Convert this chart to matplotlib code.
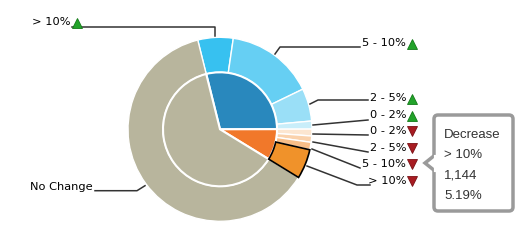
import numpy as np
import matplotlib
matplotlib.use("Agg")
import matplotlib.pyplot as plt
from matplotlib.patches import FancyBboxPatch, Polygon

# inner ring: direction of change
inner_labels = ["Increase", "Decrease", "No Change"]
inner_counts = [6360, 1938, 13744]
inner_colors = ["#2988BD", "#F1782A", "#B8B59D"]

# outer ring: size of change
outer_labels = ["> 10%", "5 - 10%", "2 - 5%", "0 - 2%",
                "0 - 2%", "2 - 5%", "5 - 10%", "> 10%", "No Change"]
outer_dir = ["up", "up", "up", "up", "down", "down", "down", "down", None]
outer_counts = [1367, 3417, 1267, 309, 265, 242, 287, 1144, 13744]
outer_colors = ["#37C1F0", "#66CFF3", "#9ADFF7", "#C9EEFA",
                "#FCE6D0", "#FAD2AC", "#F8BE88", "#F0922A", "#B8B59D"]

tooltip_lines = ["Decrease", "> 10%", "1,144", "5.19%"]

W, H = 532, 245
fig = plt.figure(figsize=(W / 100, H / 100), dpi=100)
ax = fig.add_axes([0, 0, 1, 1])
ax.set_xlim(0, W)
ax.set_ylim(0, H)
ax.axis("off")


def py(y):
    # pixel row (from top) -> data y
    return H - y


cx, cy = 220, py(129.3)
r_out, r_in = 92, 57

explode = [0] * len(outer_counts)
explode[7] = 13 / r_out
wedges, _ = ax.pie(outer_counts, radius=r_out, center=(cx, cy), startangle=104,
                   counterclock=False, colors=outer_colors, explode=explode,
                   wedgeprops=dict(width=r_out - r_in, edgecolor="white", linewidth=1))
wedges[7].set_edgecolor("black")
wedges[7].set_linewidth(1.2)
wedges[7].set_zorder(3)

ax.pie(inner_counts, radius=r_in, center=(cx, cy), startangle=104,
       counterclock=False, colors=inner_colors,
       wedgeprops=dict(edgecolor="white", linewidth=1.5))
ax.set_xlim(0, W)
ax.set_ylim(0, H)
ax.set_aspect("auto")

# labels: (text right x, text y, leader path)
lab_font = dict(family="DejaVu Sans", size=8.2, color="black")
placements = [
    (71, 22, [(72, 27), (215, 27), (215, 36)]),
    (406, 43, [(360, 47), (280, 47), (275, 54)]),
    (406, 98, [(368, 100), (318, 100), (310, 104)]),
    (406, 115, [(368, 120), (313, 125)]),
    (406, 131, [(368, 135), (313, 134)]),
    (406, 148, [(368, 152), (313, 142)]),
    (406, 164, [(360, 168), (312, 149)]),
    (406, 181, [(370, 185), (357, 185), (307, 166)]),
    (93, 187, [(95, 190.7), (137, 190.7), (145, 185.7)]),
]
for lab, d, (tx, ty, path) in zip(outer_labels, outer_dir, placements):
    xs = [p[0] for p in path]
    ys = [py(p[1]) for p in path]
    ax.plot(xs, ys, color="#333333", lw=1.1, zorder=4)
    ax.text(tx, py(ty), lab, ha="right", va="center", zorder=5, **lab_font)
    if d == "up":
        ax.plot(tx + 6, py(ty + 1), marker="^", ms=7.5, color="#22A32A",
                mec="#137A18", mew=0.6, zorder=5)
    elif d == "down":
        ax.plot(tx + 6, py(ty), marker="v", ms=7.5, color="#A81C22",
                mec="#7A1015", mew=0.6, zorder=5)

# tooltip
box = FancyBboxPatch((434, py(211)), 79, 96, boxstyle="round,pad=0,rounding_size=4",
                     facecolor="white", edgecolor="#9A9A9A", lw=2.5, zorder=6)
ax.add_patch(box)
arrow = Polygon([(435, py(155)), (425, py(163)), (435, py(171))], closed=False,
                facecolor="white", edgecolor="#9A9A9A", lw=2.5, zorder=7)
ax.add_patch(arrow)
ax.plot([435.5, 435.5], [py(156.5), py(169.5)], color="white", lw=3, zorder=8)
for i, line in enumerate(tooltip_lines):
    ax.text(444, py(135 + 20.3 * i), line, ha="left", va="center",
            family="Liberation Sans", size=9.5, color="#333333", zorder=9)

fig.savefig("out.png", dpi=100)
